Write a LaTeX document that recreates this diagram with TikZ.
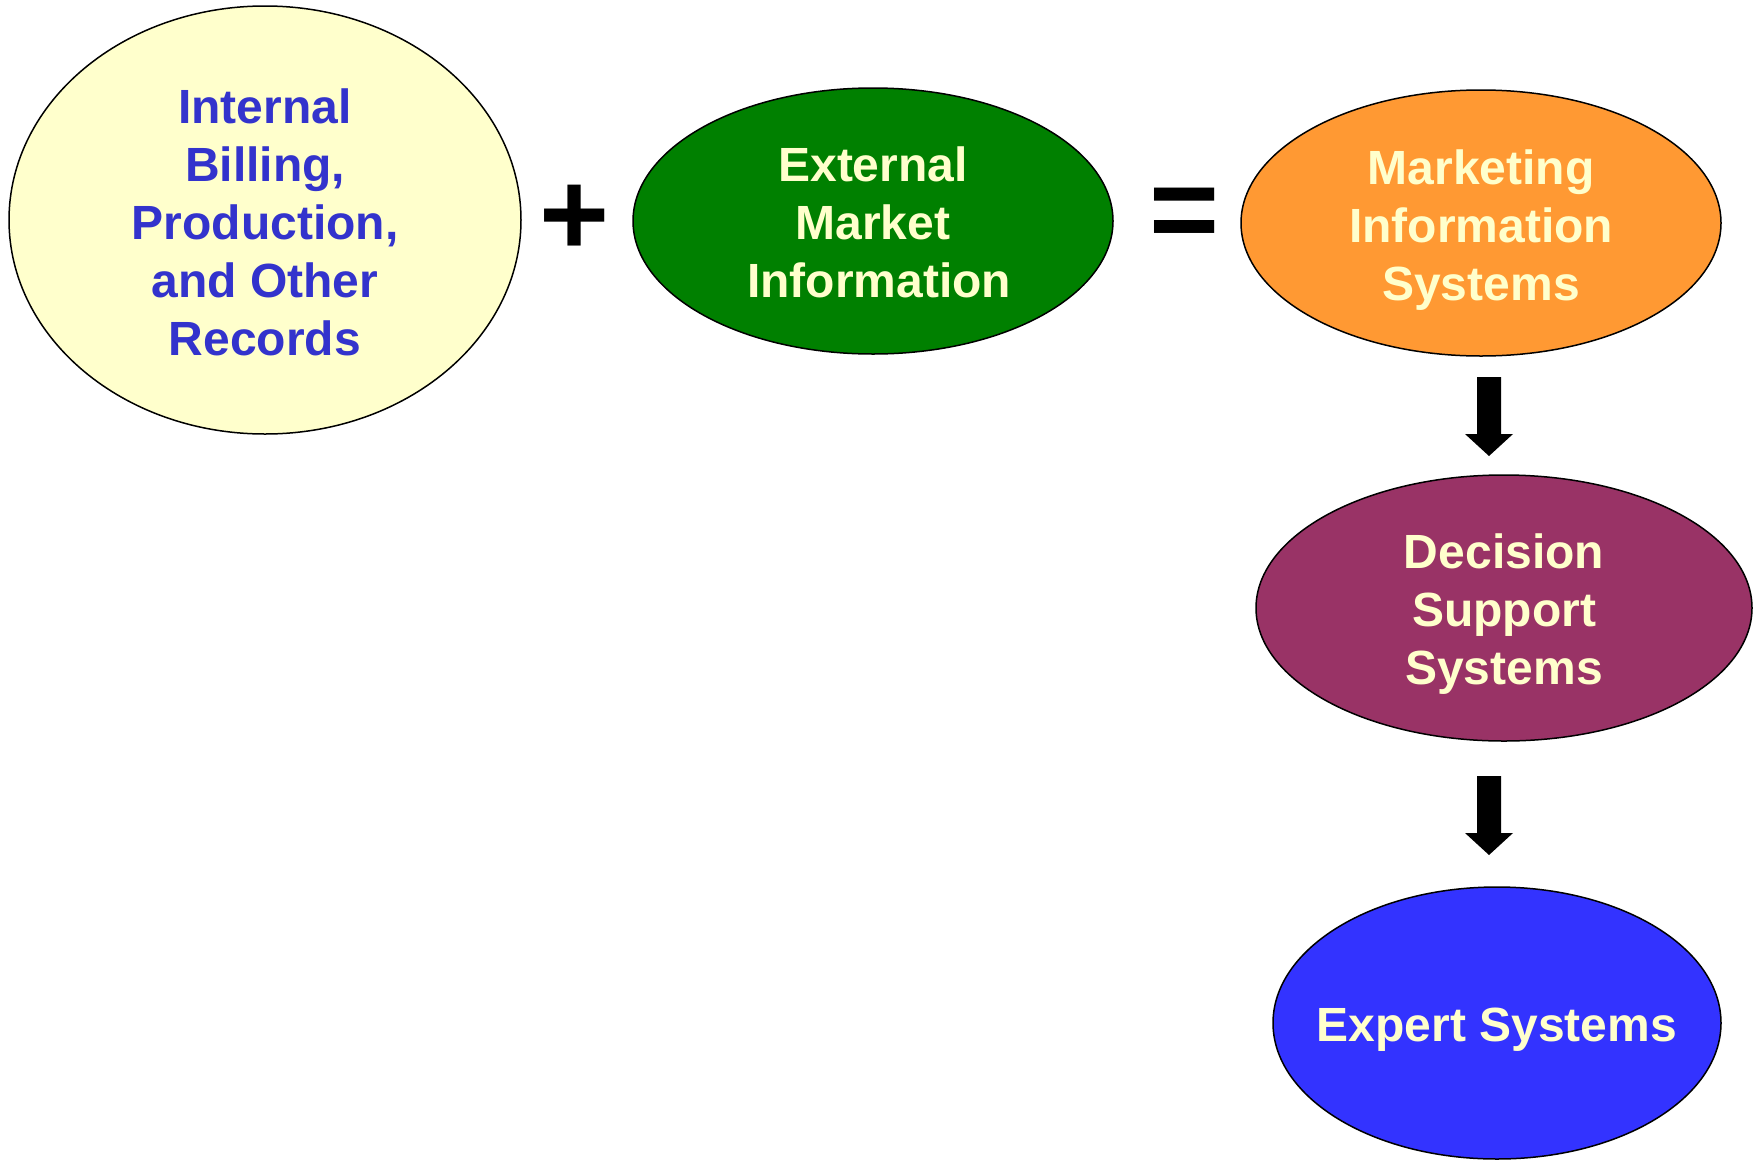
\documentclass[tikz,border=0pt]{standalone}
\usepackage{fontspec}
\setmainfont{Liberation Sans}
\usetikzlibrary{shapes.geometric,calc}
\definecolor{yel}{HTML}{FFFFCC}
\definecolor{txtblue}{HTML}{3333CC}
\definecolor{grn}{HTML}{008000}
\definecolor{org}{HTML}{FF9933}
\definecolor{mar}{HTML}{993366}
\definecolor{blu}{HTML}{3333FF}
\begin{document}
\begin{tikzpicture}[x=1pt,y=-1pt,
  oval/.style={ellipse, draw=black, line width=1.5pt, inner sep=0pt},
  ovaltext/.style={inner sep=0pt, align=center, font=\fontsize{48}{58}\selectfont\bfseries},
  opsign/.style={inner sep=0pt, font=\fontsize{120}{120}\selectfont\bfseries},
  fatarrow/.style={fill=black}]
\useasboundingbox (0,0) rectangle (1759,1162);
\node[oval, fill=yel, minimum width=512, minimum height=428] (ibr) at (265,220) {};
\node[ovaltext, text=txtblue] (ibrt) at (265,222)
  {Internal\\Billing,\\Production,\\and Other\\Records};
\node[oval, fill=grn, minimum width=480, minimum height=266] (emi) at (873,221) {};
\node[ovaltext, text=yel] (emit) at (873,222) {External\\Market\\\hspace*{12pt}Information};
\node[oval, fill=org, minimum width=480, minimum height=266] (mis) at (1481,223) {};
\node[ovaltext, text=yel] (mist) at (1481,230) {Marketing\\Information\\Systems};
\node[oval, fill=mar, minimum width=496, minimum height=266] (dss) at (1504,608) {};
\node[ovaltext, text=yel] (dsst) at (1504,614) {Decision\\Support\\Systems};
\node[oval, fill=blu, minimum width=448, minimum height=272] (es) at (1497,1023) {};
\node[ovaltext, text=yel] (est) at (1497,1030) {Expert Systems};
\node[opsign] (plus) at (575,220) {+};
\node[opsign] (eq) at (1185,219) {=};
\coordinate (a1) at (1489,377);
\coordinate (a2) at (1489,776);
\foreach \c in {a1,a2}{
  \fill[fatarrow] (\c) ++(-12,0) -- ++(24,0) -- ++(0,57) -- ++(12,0) -- ++(-24,22)
    -- ++(-24,-22) -- ++(12,0) -- cycle;
}
\end{tikzpicture}
\end{document}
